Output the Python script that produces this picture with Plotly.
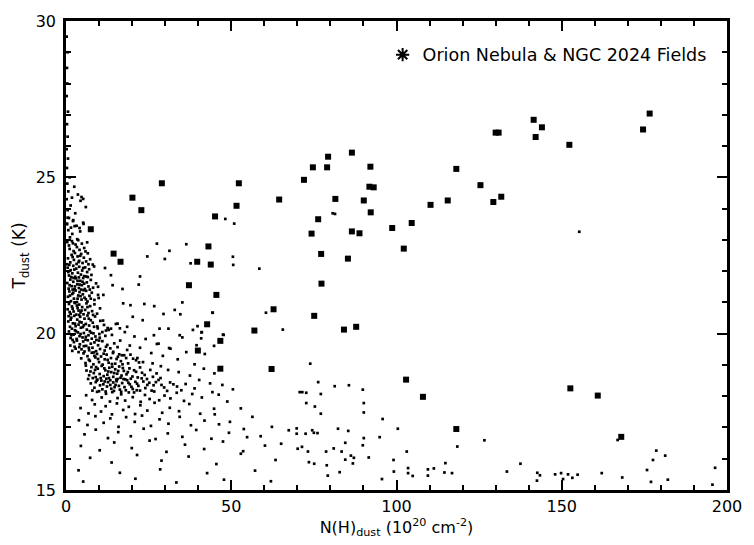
import plotly.graph_objects as go

# ---------------- Orion Nebula & NGC 2024 fields (filled squares) ----------------
orion_x = [7.5, 14.4, 16.5, 20.1, 22.8, 29.0, 37.2, 39.7, 39.9, 43.1, 42.7, 43.8, 45.1, 45.5,
           46.7, 46.7, 51.6, 52.3, 57.0, 62.2, 62.8, 64.5, 72.0, 74.7, 74.3, 75.1, 76.3, 77.2,
           77.3, 79.0, 79.3, 81.5, 84.1, 85.3, 86.5, 86.5, 87.8, 88.8, 90.1, 91.8, 93.1, 92.1,
           92.2, 98.7, 102.2, 102.9, 104.6, 108.0, 110.3, 115.5, 118.1, 118.1, 125.4, 129.3,
           130.0, 130.9, 131.7, 141.5, 142.1, 144.0, 152.3, 152.6, 160.9, 168.0, 174.6, 176.6]
orion_y = [23.34, 22.56, 22.30, 24.35, 23.95, 24.81, 21.55, 22.30, 19.46, 22.79, 20.30, 22.21,
           23.75, 21.24, 19.77, 18.88, 24.09, 24.81, 20.10, 18.87, 20.78, 24.29, 24.92, 25.32,
           23.20, 20.57, 23.66, 22.55, 21.60, 25.32, 25.66, 24.31, 20.13, 22.40, 23.27, 25.79,
           20.22, 23.21, 24.26, 24.70, 24.68, 25.34, 23.88, 23.38, 22.72, 18.53, 23.54, 17.98,
           24.12, 24.26, 25.27, 16.95, 24.75, 24.21, 26.43, 26.43, 24.38, 26.84, 26.29, 26.60,
           26.04, 18.25, 18.02, 16.70, 26.53, 27.04]

# ---------------- all-sky field points (small dots) ----------------
edge_strip = [(0.3, 23.5), (0.9, 23.7), (0.5, 23.95), (1.4, 24.1), (0.2, 24.3), (0.7, 24.55),
              (0.4, 24.8), (1.1, 25.0), (0.3, 25.3), (0.6, 25.6), (0.2, 25.9), (0.5, 26.3),
              (0.3, 26.7), (0.6, 27.1), (0.2, 27.6), (0.4, 28.0), (0.3, 28.5), (0.5, 29.0),
              (0.2, 29.5), (2.1, 23.6), (2.8, 23.85), (3.6, 24.45), (4.4, 24.25), (2.5, 24.7),
              (1.8, 24.35), (3.2, 23.45), (5.2, 23.55), (4.1, 23.38), (6.0, 24.05)]

cloud_core = [
    (0.3, 23.52), (1.2, 23.08), (0.7, 23.31), (2.6, 23.44), (1.9, 23.19), (3.4, 23.02), (0.5, 23.71),
    (4.3, 23.27), (2.2, 23.63), (1.5, 23.39),
    (0.4, 22.93), (1.1, 22.71), (1.8, 22.96), (2.3, 22.64), (2.9, 22.85), (3.7, 22.99), (4.1, 22.68),
    (4.8, 22.88), (5.5, 22.74), (6.4, 22.92), (0.9, 22.82), (3.3, 22.77), (2.1, 22.89), (5.9, 22.63),
    (0.6, 22.41), (1.3, 22.28), (1.7, 22.52), (2.4, 22.36), (2.7, 22.58), (3.2, 22.23), (3.5, 22.47),
    (4.0, 22.33), (4.6, 22.55), (5.0, 22.26), (5.4, 22.43), (6.1, 22.31), (6.6, 22.57), (7.3, 22.38),
    (8.1, 22.21), (0.3, 22.22), (2.0, 22.45), (4.3, 22.49),
    (0.5, 22.11), (0.9, 21.86), (1.4, 22.03), (1.9, 21.93), (2.2, 22.17), (2.8, 21.82), (3.1, 22.08),
    (3.6, 21.95), (4.0, 22.14), (4.5, 21.89), (4.9, 22.02), (5.5, 21.84), (5.8, 22.12), (6.4, 21.97),
    (7.0, 22.06), (7.7, 21.88), (8.5, 22.15), (1.6, 21.81), (3.9, 21.80), (6.1, 21.83),
    (0.4, 21.62), (0.8, 21.44), (1.3, 21.73), (1.7, 21.52), (2.2, 21.66), (2.6, 21.42), (3.0, 21.77),
    (3.4, 21.58), (3.9, 21.46), (4.3, 21.69), (4.8, 21.55), (5.2, 21.78), (5.7, 21.43), (6.3, 21.64),
    (6.8, 21.51), (7.5, 21.72), (8.2, 21.47), (9.1, 21.61), (2.0, 21.41), (4.6, 21.41),
    (0.6, 21.18), (1.0, 21.35), (1.5, 21.04), (1.9, 21.27), (2.4, 21.12), (2.9, 21.38), (3.3, 21.01),
    (3.7, 21.22), (4.1, 21.33), (4.7, 21.09), (5.1, 21.26), (5.6, 21.15), (6.1, 21.37), (6.5, 21.03),
    (7.1, 21.21), (7.8, 21.31), (8.6, 21.08), (9.7, 21.24), (2.6, 21.00), (5.3, 21.39),
    (0.5, 20.78), (0.9, 20.95), (1.4, 20.63), (1.8, 20.87), (2.3, 20.71), (2.7, 20.98), (3.1, 20.61),
    (3.5, 20.82), (4.0, 20.93), (4.4, 20.68), (4.9, 20.85), (5.3, 20.62), (5.8, 20.76), (6.2, 20.97),
    (6.8, 20.66), (7.3, 20.88), (7.9, 20.72), (8.6, 20.94), (9.4, 20.64), (10.3, 20.81), (1.1, 20.69),
    (3.8, 20.74),
    (0.7, 20.39), (1.2, 20.22), (1.6, 20.51), (2.1, 20.33), (2.5, 20.57), (2.9, 20.24), (3.4, 20.45),
    (3.8, 20.29), (4.3, 20.54), (4.7, 20.36), (5.1, 20.21), (5.6, 20.48), (6.0, 20.31), (6.5, 20.58),
    (7.0, 20.26), (7.5, 20.43), (8.1, 20.35), (8.8, 20.55), (9.5, 20.23), (10.4, 20.41), (11.5, 20.28),
    (4.0, 20.60),
    (0.9, 20.07), (1.4, 19.86), (1.8, 20.16), (2.3, 19.97), (2.7, 20.11), (3.2, 19.83), (3.6, 20.04),
    (4.1, 19.92), (4.5, 20.19), (5.0, 19.88), (5.4, 20.02), (5.9, 19.81), (6.3, 20.13), (6.8, 19.95),
    (7.2, 20.08), (7.8, 19.84), (8.3, 20.01), (8.9, 19.91), (9.6, 20.17), (10.2, 19.87), (11.0, 20.05),
    (11.9, 19.93), (12.9, 20.12), (2.0, 19.80),
    (1.3, 19.62), (1.9, 19.45), (2.4, 19.73), (2.9, 19.52), (3.3, 19.78), (3.8, 19.41), (4.2, 19.66),
    (4.7, 19.50), (5.2, 19.75), (5.6, 19.43), (6.1, 19.61), (6.6, 19.79), (7.0, 19.47), (7.5, 19.68),
    (8.0, 19.55), (8.6, 19.72), (9.1, 19.44), (9.7, 19.63), (10.3, 19.51), (11.0, 19.76), (11.7, 19.46),
    (12.5, 19.64), (13.4, 19.53), (14.6, 19.69),
    (1.0, 22.20), (2.5, 22.05), (3.8, 22.29), (5.2, 22.10), (6.8, 22.22), (0.7, 21.97), (2.3, 21.78),
    (3.5, 21.69), (5.0, 21.66), (6.6, 21.81), (1.1, 21.55), (2.7, 21.51), (4.1, 21.57), (5.5, 21.60),
    (7.2, 21.41), (1.2, 21.22), (2.2, 21.31), (3.5, 21.12), (4.4, 21.20), (6.0, 21.10), (7.5, 21.12),
    (0.8, 20.56), (2.0, 20.80), (3.3, 20.90), (4.7, 20.74), (6.5, 20.85), (8.2, 20.60), (1.4, 20.45),
    (2.7, 20.32), (4.1, 20.38), (5.4, 20.27), (6.9, 20.48), (8.5, 20.22), (1.6, 19.95), (3.0, 20.08),
    (4.4, 19.99), (6.0, 19.90), (7.6, 20.03), (9.2, 19.80), (2.6, 19.58), (4.0, 19.57), (5.4, 19.60),
    (6.9, 19.55), (8.4, 19.40), (10.0, 19.78),
]

cloud_ridge = [
    (4.6, 19.21), (5.3, 19.37), (5.9, 19.06), (6.5, 19.28), (7.2, 19.13), (7.8, 19.39), (8.3, 19.02),
    (8.9, 19.24), (9.4, 19.35), (10.0, 19.09), (10.6, 19.27), (11.1, 19.01), (11.7, 19.18), (12.3, 19.33),
    (12.9, 19.07), (13.6, 19.22), (14.2, 19.38), (14.9, 19.04), (15.7, 19.26), (16.6, 19.12), (17.6, 19.31),
    (18.8, 19.05), (20.3, 19.20), (22.1, 19.08),
    (6.2, 18.82), (7.0, 18.67), (7.7, 18.93), (8.4, 18.74), (9.0, 18.61), (9.6, 18.88), (10.2, 18.71),
    (10.8, 18.97), (11.4, 18.64), (11.9, 18.83), (12.5, 18.69), (13.1, 18.91), (13.7, 18.77), (14.3, 18.62),
    (14.9, 18.86), (15.5, 18.72), (16.1, 18.95), (16.8, 18.66), (17.5, 18.81), (18.3, 18.70), (19.2, 18.89),
    (20.1, 18.63), (21.2, 18.78), (22.4, 18.92), (23.8, 18.68), (25.5, 18.84), (27.4, 18.73),
    (7.5, 18.41), (8.6, 18.27), (9.5, 18.53), (10.3, 18.35), (11.0, 18.22), (11.7, 18.47), (12.4, 18.31),
    (13.0, 18.58), (13.7, 18.24), (14.3, 18.44), (15.0, 18.36), (15.6, 18.55), (16.3, 18.21), (17.0, 18.42),
    (17.7, 18.29), (18.5, 18.51), (19.3, 18.38), (20.2, 18.23), (21.0, 18.46), (21.9, 18.33), (22.9, 18.57),
    (24.0, 18.26), (25.2, 18.43), (26.5, 18.35), (28.0, 18.52), (29.7, 18.28), (31.5, 18.44), (33.6, 18.31),
    (36.2, 18.39), (38.9, 18.25),
    (6.1, 18.03), (7.9, 17.88), (9.4, 18.14), (10.8, 17.96), (12.1, 18.08), (13.3, 17.83), (14.5, 18.17),
    (15.6, 17.94), (16.7, 18.06), (17.9, 17.86), (19.0, 18.12), (20.2, 17.97), (21.4, 18.19), (22.6, 17.82),
    (23.9, 18.04), (25.3, 17.91), (26.7, 18.15), (28.2, 17.87), (29.8, 18.02), (31.6, 17.93), (33.5, 18.11),
    (35.7, 17.85), (38.2, 18.07), (41.1, 17.96), (44.3, 18.13),
    (6.9, 19.17), (8.6, 19.29), (9.7, 19.19), (11.4, 19.36), (12.6, 19.16), (13.9, 19.03), (15.3, 19.19),
    (16.1, 19.34), (17.1, 19.02), (18.2, 19.22), (19.5, 19.33), (21.2, 19.15), (6.0, 18.98), (9.1, 18.93),
    (6.7, 18.55), (7.4, 18.79), (8.1, 18.58), (8.8, 18.84), (9.3, 18.50), (10.5, 18.58), (11.6, 18.89),
    (12.2, 18.56), (12.8, 18.79), (13.4, 18.51), (14.0, 18.94), (14.6, 18.74), (15.2, 18.53), (15.8, 18.81),
    (16.5, 18.59), (17.2, 18.90), (17.9, 18.54), (18.7, 18.77), (19.6, 18.56), (20.6, 18.83), (21.7, 18.60),
    (23.0, 18.75), (24.5, 18.55), (26.3, 18.62), (28.6, 18.58),
    (8.0, 18.18), (9.0, 18.45), (10.0, 18.16), (10.7, 18.50), (11.3, 18.38), (12.0, 18.15), (12.7, 18.45),
    (13.4, 18.36), (14.0, 18.13), (14.7, 18.29), (15.3, 18.48), (16.0, 18.33), (16.7, 18.14), (17.4, 18.55),
    (18.1, 18.19), (18.9, 18.43), (19.8, 18.30), (20.6, 18.12), (21.5, 18.40), (22.4, 18.18), (23.4, 18.47),
    (24.6, 18.36), (25.9, 18.18), (27.2, 18.45), (28.9, 18.36), (30.6, 18.17), (32.5, 18.38), (34.9, 18.19),
]

cloud_tail = [
    (4.4, 17.62), (6.8, 17.45), (8.7, 17.74), (10.6, 17.51), (12.0, 17.68), (13.9, 17.42), (15.4, 17.77),
    (17.3, 17.56), (19.0, 17.66), (20.9, 17.43), (22.5, 17.71), (24.6, 17.54), (26.8, 17.79), (29.1, 17.47),
    (31.4, 17.63), (34.2, 17.52), (37.3, 17.75), (40.6, 17.44), (44.8, 17.60),
    (3.9, 17.23), (6.5, 17.08), (8.9, 17.36), (11.4, 17.15), (13.4, 17.29), (15.9, 17.02), (18.2, 17.33),
    (20.8, 17.18), (23.0, 17.38), (25.7, 17.05), (28.3, 17.26), (31.0, 17.12), (34.4, 17.34), (37.8, 17.07),
    (41.9, 17.22), (46.3, 17.10),
    (5.6, 16.78), (9.0, 16.93), (12.7, 16.66), (15.8, 16.85), (19.6, 16.72), (23.5, 16.96), (27.1, 16.63),
    (30.8, 16.81), (35.2, 16.70), (39.4, 16.92), (44.0, 16.64), (49.3, 16.83), (54.8, 16.69),
    (4.5, 16.41), (10.2, 16.27), (14.6, 16.52), (19.9, 16.34), (25.3, 16.58), (30.4, 16.22), (36.0, 16.45),
    (41.8, 16.31), (47.5, 16.55), (53.6, 16.24), (60.2, 16.42),
    (7.3, 16.03), (13.8, 15.88), (21.5, 16.12), (28.9, 15.94), (37.1, 16.07), (45.5, 15.83), (52.9, 16.16),
    (63.4, 15.96),
    (3.8, 15.63), (16.3, 15.55), (28.5, 15.66), (42.7, 15.54), (57.2, 15.62),
    (5.2, 15.27), (21.0, 15.36), (33.4, 15.24), (47.8, 15.33), (62.0, 15.28),
]

cloud_fringe = [
    (11.2, 20.42), (12.6, 20.18), (13.9, 19.96), (15.1, 20.31), (16.4, 19.78), (17.8, 20.05), (19.3, 19.62),
    (20.7, 19.91), (22.4, 19.55), (24.1, 19.83), (25.8, 19.38), (27.5, 19.67), (29.3, 19.29), (31.6, 19.52),
    (33.8, 19.18), (36.4, 19.41), (14.3, 19.42), (16.9, 19.31), (18.5, 19.48), (21.6, 19.22), (23.3, 19.09),
    (26.2, 19.05), (28.7, 18.96), (30.9, 18.84), (34.1, 18.77), (37.5, 18.66), (40.3, 18.52), (43.6, 18.41),
    (12.1, 19.58), (15.6, 19.57), (38.9, 19.02), (41.7, 18.88), (44.9, 18.73), (47.3, 18.36), (35.2, 19.88),
    (39.5, 19.63), (46.2, 18.05), (48.8, 17.83), (50.5, 18.22), (52.9, 17.61), (45.0, 17.42), (49.6, 17.18),
    (53.8, 16.95), (56.4, 17.34), (58.9, 16.72), (62.3, 17.02), (65.1, 16.48), (67.4, 16.91), (42.0, 19.35),
    (44.8, 19.61), (38.4, 20.12), (40.9, 19.85),
    (4.7, 24.37), (5.2, 24.31), (5.3, 23.51), (13.6, 21.87), (11.8, 22.10), (14.1, 21.55), (17.1, 21.43),
    (22.4, 21.83), (23.7, 20.95), (24.6, 22.47), (27.5, 22.88), (31.3, 22.65), (29.9, 22.39), (26.7, 20.88),
    (22.0, 21.57), (36.4, 22.86), (37.7, 22.25), (35.2, 21.00), (32.9, 20.76), (34.6, 20.62), (29.5, 20.63),
    (28.3, 20.16), (31.0, 20.16), (26.6, 19.95), (28.0, 19.68), (31.2, 19.54), (34.4, 19.95), (39.8, 20.24),
    (41.0, 20.04), (44.4, 20.67), (47.5, 19.97), (48.2, 23.67), (50.9, 23.52), (50.5, 22.46), (50.6, 22.20),
    (19.5, 20.91), (20.2, 20.54), (23.2, 20.43), (17.3, 20.97), (15.6, 20.32), (18.5, 20.22), (16.3, 20.17),
    (13.6, 20.16), (10.1, 19.99), (12.1, 20.10), (11.3, 21.24), (9.7, 21.50), (9.9, 21.14),
    (58.5, 22.08), (44.3, 20.67), (60.5, 20.67), (65.6, 20.13), (47.7, 19.96), (41.1, 20.05),
]

sparse_field = [
    (70.7, 18.13), (71.5, 18.13), (72.7, 18.11), (77.1, 18.07), (76.3, 18.45), (81.3, 18.32), (85.6, 18.35),
    (89.8, 18.21), (72.7, 17.78), (75.3, 17.67), (77.1, 17.44), (90.1, 17.78), (90.1, 17.48), (69.8, 16.97),
    (74.5, 16.91), (75.0, 16.83), (76.1, 16.82), (69.8, 16.80), (72.5, 16.80), (82.3, 16.96), (85.4, 16.89),
    (84.5, 16.51), (90.1, 16.66), (89.8, 16.43), (91.6, 16.04), (94.9, 16.69), (95.8, 17.27), (100.4, 16.96),
    (70.1, 16.32), (71.4, 16.38), (73.2, 16.23), (78.7, 16.23), (81.0, 16.33), (83.4, 16.23), (86.2, 16.10),
    (87.1, 16.03), (84.5, 15.97), (86.8, 15.85), (73.5, 15.89), (75.1, 15.84), (78.9, 15.79), (79.2, 15.46),
    (82.8, 15.57), (95.6, 15.35), (99.1, 15.96), (99.2, 15.59), (103.1, 16.23), (103.5, 15.70), (103.5, 15.54),
    (104.9, 15.45), (109.5, 15.66), (109.5, 15.46), (111.3, 15.69), (114.5, 15.56), (114.8, 15.86),
    (116.8, 15.54), (118.4, 16.39), (126.6, 16.59), (133.4, 15.59), (137.5, 15.84), (142.6, 15.55),
    (143.4, 15.47), (142.5, 15.30), (148.0, 15.50), (149.8, 15.54), (150.4, 15.35), (151.9, 15.50),
    (153.2, 15.39), (154.8, 15.49), (162.1, 15.54), (166.9, 16.60), (168.3, 15.40), (175.8, 15.64),
    (177.6, 15.96), (178.6, 16.26), (177.0, 15.26), (181.3, 16.10), (182.1, 15.33), (196.4, 15.71),
    (195.6, 15.17), (73.9, 19.04), (81.4, 23.83), (80.7, 23.85), (155.3, 23.26),
]

field_points = edge_strip + cloud_core + cloud_ridge + cloud_tail + cloud_fringe + sparse_field
field_x = [p[0] for p in field_points]
field_y = [p[1] for p in field_points]

legend_label = "Orion Nebula & NGC 2024 Fields"
x_title = "N(H)<sub>dust</sub> (10<sup>20</sup> cm<sup>-2</sup>)"
y_title = "T<sub>dust</sub> (K)"
x_range, y_range = [0, 200], [15, 30]
x_major, x_minor = 50, 10
y_major, y_minor = 5, 1

FONT = "DejaVu Sans, Liberation Sans, Arial, sans-serif"

fig = go.Figure()
fig.add_trace(go.Scatter(
    x=field_x, y=field_y, mode="markers", showlegend=False, hoverinfo="skip",
    marker=dict(symbol="square", size=2.7, color="black", line=dict(width=0)),
))
fig.add_trace(go.Scatter(
    x=orion_x, y=orion_y, mode="markers", showlegend=False,
    marker=dict(symbol="square", size=6, color="black", line=dict(width=0)),
))
# legend entry with the asterisk symbol used in the original key
fig.add_trace(go.Scatter(
    x=[None], y=[None], mode="markers", name=legend_label, showlegend=True,
    marker=dict(symbol="asterisk-open", size=11, color="black", line=dict(width=2, color="black")),
))

tick_font = dict(family=FONT, size=16, color="black")
axis_common = dict(
    showgrid=False, zeroline=False,
    showline=True, linecolor="black", linewidth=2.5, mirror="allticks",
    ticks="inside", ticklen=10, tickwidth=2, tickcolor="black",
    tickfont=tick_font, layer="above traces",
)

fig.update_layout(
    width=754, height=545,
    margin=dict(l=66, r=17, t=13, b=52),
    paper_bgcolor="white", plot_bgcolor="white",
    font=dict(family=FONT, size=16, color="black"),
    showlegend=True,
    legend=dict(x=0.479, y=0.928, xanchor="left", yanchor="middle",
                bgcolor="rgba(0,0,0,0)", borderwidth=0,
                font=dict(family=FONT, size=17.5, color="black")),
    xaxis=dict(
        range=x_range, tick0=0, dtick=x_major, ticklabeloverflow="allow",
        minor=dict(ticks="inside", tick0=0, dtick=x_minor, ticklen=5, tickwidth=1.5, tickcolor="black"),
        title=dict(text=x_title, font=dict(family=FONT, size=16), standoff=6),
        **axis_common,
    ),
    yaxis=dict(
        range=y_range, tick0=15, dtick=y_major, ticklabelstandoff=4,
        minor=dict(ticks="inside", tick0=15, dtick=y_minor, ticklen=5, tickwidth=1.5, tickcolor="black"),
        title=dict(text=y_title, font=dict(family=FONT, size=17), standoff=6),
        **axis_common,
    ),
)

fig.write_html("out.html")
